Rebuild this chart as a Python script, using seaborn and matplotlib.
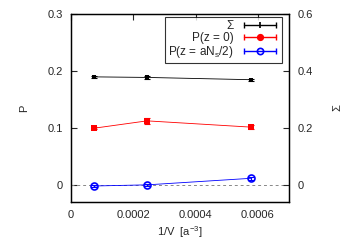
import numpy as np
import pandas as pd
import matplotlib
matplotlib.use("Agg")
import matplotlib.pyplot as plt
from matplotlib.lines import Line2D
from matplotlib.legend_handler import HandlerLine2D, HandlerTuple
import seaborn as sns

sns.set_style("white")
plt.rcParams['font.family'] = ['Liberation Sans', 'DejaVu Sans']
plt.rcParams['mathtext.fontset'] = 'custom'
plt.rcParams['mathtext.rm'] = 'Liberation Sans'
plt.rcParams['mathtext.it'] = 'Liberation Sans'

# data
inv_v = [1 / 24**3, 1 / 16**3, 1 / 12**3]
sigma = [0.380, 0.378, 0.370]
sigma_err = [0.004, 0.005, 0.004]
p_z0 = [0.100, 0.113, 0.102]
p_z0_err = [0.002, 0.005, 0.004]
p_half = [-0.001, 0.001, 0.0125]
p_half_err = [0.002, 0.002, 0.003]

x_ticks = [0, 0.0002, 0.0004, 0.0006]
x_ticklabels = ["0", "0.0002", "0.0004", "0.0006"]
yl_ticks = [0, 0.1, 0.2, 0.3]
yl_ticklabels = ["0", "0.1", "0.2", "0.3"]
yr_ticks = [0, 0.2, 0.4, 0.6]
yr_ticklabels = ["0", "0.2", "0.4", "0.6"]

fs = 8
lfs = 8.5
fig = plt.figure(figsize=(3.6, 2.52), dpi=100)
ax = fig.add_axes([71 / 360, 1 - 202 / 252, 218 / 360, 188 / 252])
ax2 = ax.twinx()

ax.set_xlim(0, 0.0007)
ax.set_ylim(-0.029, 0.3)
ax2.set_ylim(-0.058, 0.6)

ax.axhline(0, color="#888888", ls=(0, (3, 3)), lw=0.7, zorder=1)

df = pd.DataFrame({"x": inv_v, "sigma": sigma, "pz0": p_z0, "phalf": p_half})

# Sigma on right axis
sns.lineplot(data=df, x="x", y="sigma", ax=ax2, color="black", lw=0.6,
             marker="s", markersize=3, markeredgewidth=0, legend=False)
ax2.errorbar(inv_v, sigma, yerr=sigma_err, fmt="none", ecolor="black",
             elinewidth=0.8, capsize=2, capthick=0.8)

sns.lineplot(data=df, x="x", y="pz0", ax=ax, color="#ff0000", lw=0.6,
             marker="s", markersize=4.5, markeredgewidth=0, legend=False)
ax.errorbar(inv_v, p_z0, yerr=p_z0_err, fmt="none", ecolor="#ff0000",
            elinewidth=0.8, capsize=2, capthick=0.8)

sns.lineplot(data=df, x="x", y="phalf", ax=ax, color="#0000ff", lw=0.6,
             marker="o", markersize=5, markerfacecolor="none",
             markeredgecolor="#0000ff", markeredgewidth=1.2, legend=False)
ax.errorbar(inv_v, p_half, yerr=p_half_err, fmt="none", ecolor="#0000ff",
            elinewidth=0.8, capsize=2, capthick=0.8)

for a in (ax, ax2):
    for s in a.spines.values():
        s.set_linewidth(0.9)
        s.set_color("black")

ax.set_xticks(x_ticks)
ax.set_xticklabels(x_ticklabels)
ax.set_yticks(yl_ticks)
ax.set_yticklabels(yl_ticklabels)
ax2.set_yticks(yr_ticks)
ax2.set_yticklabels(yr_ticklabels)
ax.tick_params(axis="x", direction="in", top=True, length=4, width=0.8,
               labelsize=fs, pad=6)
ax.tick_params(axis="y", direction="in", left=True, right=False, length=4,
               width=0.8, labelsize=fs, pad=6)
ax2.tick_params(axis="y", direction="in", right=True, length=4, width=0.8,
                labelsize=fs, pad=6)

ax.set_xlabel(r"1/V  [a$^{-3}$]", fontsize=fs, labelpad=3)
ax.set_ylabel("P", fontsize=fs, labelpad=13)
ax2.set_ylabel("Σ", fontsize=fs, labelpad=14)

# legend (gnuplot style: text right, sample on right with end caps)
handles = []
hmap = {}
for col, mk, mfc, ms in [("black", "|", "black", 4),
                         ("#ff0000", "o", "#ff0000", 4),
                         ("#0000ff", "o", "none", 4.5)]:
    caps = Line2D([], [], color=col, lw=1.0, marker="|", markersize=5,
                  markeredgewidth=1.0)
    mid = Line2D([], [], color=col, lw=0, marker=mk, markersize=ms,
                 markerfacecolor=mfc, markeredgecolor=col, markeredgewidth=1.2)
    hmap[caps] = HandlerLine2D(numpoints=2)
    hmap[mid] = HandlerLine2D(numpoints=1)
    handles.append((caps, mid))
labels = ["Σ", "P(z = 0)", r"P(z = aN$_s$/2)"]
leg = ax.legend(handles, labels, handler_map={**hmap, tuple: HandlerTuple(ndivide=1)},
                loc="upper right", bbox_to_anchor=(0.97, 0.985),
                markerfirst=False, fontsize=lfs, frameon=True, fancybox=False,
                handlelength=3.3, handletextpad=0.6, labelspacing=0.0,
                borderpad=0.25, borderaxespad=0.0)
leg.get_frame().set_edgecolor("black")
leg.get_frame().set_linewidth(0.8)
leg.set_zorder(10)

fig.savefig("out.png", dpi=100)
